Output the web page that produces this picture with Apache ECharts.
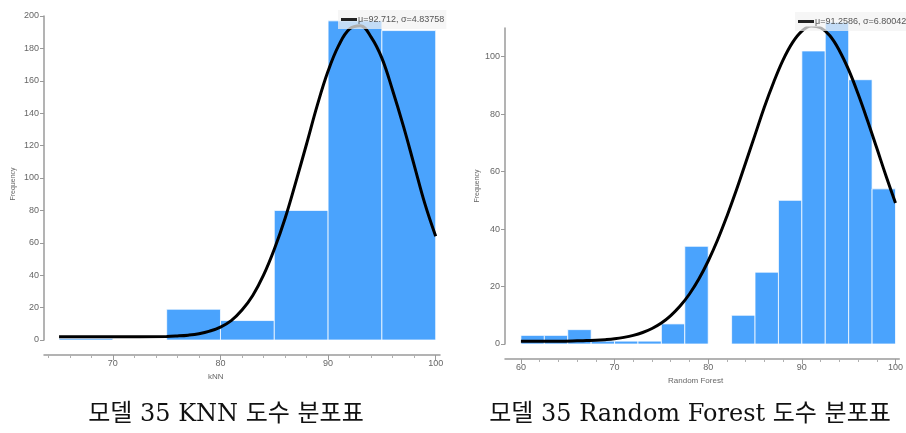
<!DOCTYPE html>
<html>
<head>
<meta charset="utf-8">
<script src="https://cdn.jsdelivr.net/npm/echarts@6/dist/echarts.min.js"></script>
<style>
html,body{margin:0;padding:0;background:#fff;}
#chart{width:906px;height:433px;}
</style>
</head>
<body>
<div id="chart"></div>
<script>
// ---- Data ----
const knnBinEdges = [65, 70, 75, 80, 85, 90, 95, 100];
const knnCounts = [1, 0, 19, 12, 80, 197, 191];
const knnCurveX = [65, 70, 75, 76, 77, 78, 79, 80, 81, 82, 83, 84, 85, 86, 87, 88, 89, 90, 91, 92, 93, 94, 95, 96, 97, 98, 99, 100];
const knnCurveY = [2, 2, 2.2, 2.5, 3, 3.9, 5.5, 8, 12, 18.5, 27.5, 40, 56, 75, 97.5, 121, 145, 166, 182, 192, 194, 187, 174, 154, 132, 108, 84, 64];
const knnLegend = 'μ=92.712, σ=4.83758';

const rfBinEdges = [60, 62.5, 65, 67.5, 70, 72.5, 75, 77.5, 80, 82.5, 85, 87.5, 90, 92.5, 95, 97.5, 100];
const rfCounts = [3, 3, 5, 1, 1, 1, 7, 34, 0, 10, 25, 50, 102, 112, 92, 54];
const rfCurveX = [60, 62, 64, 66, 67, 68, 69, 70, 71, 72, 73, 74, 75, 76, 77, 78, 79, 80, 81, 82, 83, 84, 85, 86, 87, 88, 89, 90, 91, 92, 93, 94, 95, 96, 97, 98, 99, 100];
const rfCurveY = [1, 1, 1, 1.1, 1.2, 1.3, 1.5, 1.8, 2.3, 3, 4, 5.4, 7.3, 9.9, 13.2, 17.4, 22.6, 28.9, 36.2, 44.5, 53.5, 63.1, 72.8, 82.5, 91.2, 98.9, 104.9, 108.9, 110.7, 110.1, 107.3, 102.2, 95.4, 87.1, 77.9, 68.2, 58.4, 49.1];
const rfLegend = 'μ=91.2586, σ=6.80042';

const knnYTicks = [0, 20, 40, 60, 80, 100, 120, 140, 160, 180, 200];
const rfYTicks = [0, 20, 40, 60, 80, 100];
const knnXLabels = [70, 80, 90, 100];
const rfXLabels = [60, 70, 80, 90, 100];
const knnXMinor = [64, 66, 68, 72, 74, 76, 78, 82, 84, 86, 88, 92, 94, 96, 98];
const rfXMinor = [62, 64, 66, 68, 72, 74, 76, 78, 82, 84, 86, 88, 92, 94, 96, 98];

const captionLeft = '모델 35 KNN 도수 분포표';
const captionRight = '모델 35 Random Forest 도수 분포표';

// ---- Build ----
function bins(edges, counts) {
  return counts.map((c, i) => [edges[i], edges[i + 1], c]);
}
function pairs(xs, ys) { return xs.map((x, i) => [x, ys[i]]); }

const BAR = '#4aa3fd';
const AXC = '#9a9a9a';
const LBL = '#666';
const CAPFONT = '"DejaVu Serif", "Noto Sans CJK KR", serif';

function renderBin(params, api) {
  const p0 = api.coord([api.value(0), api.value(2)]);
  const p1 = api.coord([api.value(1), 0]);
  return {
    type: 'rect',
    shape: { x: p0[0], y: p0[1], width: p1[0] - p0[0], height: p1[1] - p0[1] },
    style: { fill: BAR, stroke: 'rgba(255,255,255,0.75)', lineWidth: 1 }
  };
}

function mainX(gi, min, max, labels, offset) {
  return {
    type: 'value', gridIndex: gi, min: min, max: max, offset: offset, position: 'bottom',
    axisLine: { show: true, onZero: false, lineStyle: { color: AXC, width: 1.5 } },
    axisTick: { show: true, customValues: labels, length: 5, lineStyle: { color: AXC } },
    axisLabel: { customValues: labels, color: LBL, fontSize: 9, margin: 4, fontFamily: 'Liberation Sans' },
    splitLine: { show: false }
  };
}
function minorX(gi, min, max, ticks, offset) {
  return {
    type: 'value', gridIndex: gi, min: min, max: max, offset: offset, position: 'bottom',
    axisLine: { show: false, onZero: false },
    axisTick: { show: true, customValues: ticks, length: 3, lineStyle: { color: '#b0b0b0' } },
    axisLabel: { show: false },
    splitLine: { show: false }
  };
}
function mainY(gi, max, ticks) {
  return {
    type: 'value', gridIndex: gi, min: 0, max: max,
    axisLine: { show: true, onZero: false, lineStyle: { color: AXC, width: 1.5 } },
    axisTick: { show: true, customValues: ticks, length: 4, lineStyle: { color: AXC } },
    axisLabel: { customValues: ticks, color: LBL, fontSize: 9, margin: 5, fontFamily: 'Liberation Sans' },
    splitLine: { show: false }
  };
}

const chart = echarts.init(document.getElementById('chart'), null, { renderer: 'canvas' });
chart.setOption({
  animation: false,
  backgroundColor: '#fff',
  grid: [
    { left: 44, top: 16, width: 396, height: 324 },
    { left: 505, top: 28, width: 397, height: 316 }
  ],
  xAxis: [
    mainX(0, 63.6, 100.4, knnXLabels, 15),
    minorX(0, 63.6, 100.4, knnXMinor, 15),
    mainX(1, 58.3, 100.4, rfXLabels, 15),
    minorX(1, 58.3, 100.4, rfXMinor, 15)
  ],
  yAxis: [
    mainY(0, 200, knnYTicks),
    mainY(1, 110, rfYTicks)
  ],
  legend: [
    {
      data: [knnLegend], left: 338, top: 10, padding: [5, 2, 5, 3], itemGap: 2,
      icon: 'rect', itemWidth: 16, itemHeight: 3,
      backgroundColor: 'rgba(242,242,242,0.72)',
      textStyle: { fontSize: 9, color: '#555', padding: [0, 0, 0, -4], fontFamily: 'Liberation Sans' }
    },
    {
      data: [rfLegend], left: 795, top: 12, padding: [5, 2, 5, 3], itemGap: 2,
      icon: 'rect', itemWidth: 16, itemHeight: 3,
      backgroundColor: 'rgba(242,242,242,0.72)',
      textStyle: { fontSize: 9, color: '#555', padding: [0, 0, 0, -4], fontFamily: 'Liberation Sans' }
    }
  ],
  series: [
    {
      type: 'custom', name: 'knnBins', xAxisIndex: 0, yAxisIndex: 0,
      renderItem: renderBin, encode: { x: [0, 1], y: 2 },
      data: bins(knnBinEdges, knnCounts), z: 2
    },
    {
      type: 'line', name: knnLegend, xAxisIndex: 0, yAxisIndex: 0,
      data: pairs(knnCurveX, knnCurveY), smooth: 0.4, showSymbol: false, symbol: 'none',
      lineStyle: { color: '#000', width: 3 }, itemStyle: { color: '#222' }, z: 3
    },
    {
      type: 'custom', name: 'rfBins', xAxisIndex: 2, yAxisIndex: 1,
      renderItem: renderBin, encode: { x: [0, 1], y: 2 },
      data: bins(rfBinEdges, rfCounts), z: 2
    },
    {
      type: 'line', name: rfLegend, xAxisIndex: 2, yAxisIndex: 1,
      data: pairs(rfCurveX, rfCurveY), smooth: 0.4, showSymbol: false, symbol: 'none',
      lineStyle: { color: '#000', width: 3 }, itemStyle: { color: '#222' }, z: 3
    }
  ],
  graphic: [
    { type: 'text', left: 208, top: 373, style: { text: 'kNN', fontSize: 8, fill: '#666', fontFamily: 'Liberation Sans' } },
    { type: 'text', left: 668, top: 377, style: { text: 'Random Forest', fontSize: 8, fill: '#666', fontFamily: 'Liberation Sans' } },
    { type: 'text', x: 13, y: 184, rotation: Math.PI / 2, style: { text: 'Frequency', fontSize: 7, fill: '#666', align: 'center', verticalAlign: 'middle', fontFamily: 'Liberation Sans' } },
    { type: 'text', x: 477, y: 186, rotation: Math.PI / 2, style: { text: 'Frequency', fontSize: 7, fill: '#666', align: 'center', verticalAlign: 'middle', fontFamily: 'Liberation Sans' } },
    { type: 'text', x: 226, y: 415, style: { text: captionLeft, fontSize: 24, fill: '#111', align: 'center', verticalAlign: 'middle', fontFamily: CAPFONT } },
    { type: 'text', x: 690, y: 415, style: { text: captionRight, fontSize: 24, fill: '#111', align: 'center', verticalAlign: 'middle', fontFamily: CAPFONT } }
  ]
});
</script>
</body>
</html>
